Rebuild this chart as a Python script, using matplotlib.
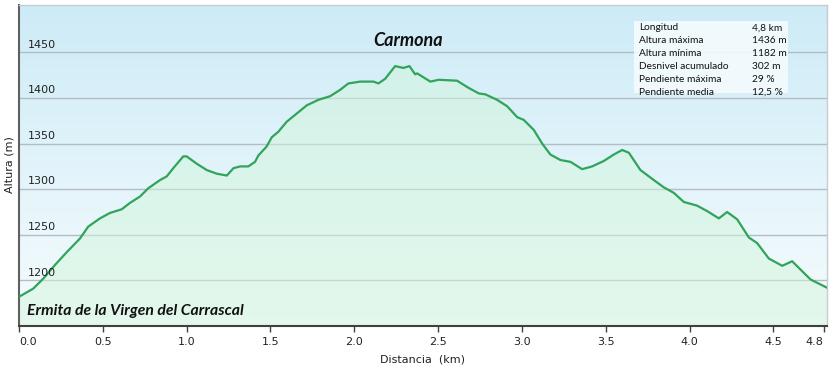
import numpy as np
import matplotlib.pyplot as plt
from matplotlib.colors import LinearSegmentedColormap

# Perfil de altura (distancia en km, altura en m)
dist = [0.0, 0.085, 0.145, 0.215, 0.285, 0.364, 0.413, 0.483, 0.543, 0.613,
        0.662, 0.722, 0.771, 0.841, 0.881, 0.92, 0.98, 1.0, 1.06, 1.12,
        1.18, 1.24, 1.279, 1.319, 1.368, 1.408, 1.428, 1.478, 1.508, 1.547,
        1.597, 1.657, 1.717, 1.786, 1.856, 1.916, 1.965, 2.035, 2.115, 2.144,
        2.184, 2.244, 2.293, 2.329, 2.363, 2.375, 2.454, 2.504, 2.613, 2.683,
        2.743, 2.782, 2.852, 2.912, 2.972, 3.011, 3.071, 3.121, 3.17, 3.23,
        3.29, 3.359, 3.419, 3.489, 3.548, 3.598, 3.638, 3.707, 3.787, 3.847,
        3.906, 3.966, 4.045, 4.105, 4.175, 4.224, 4.284, 4.354, 4.403, 4.473,
        4.553, 4.612, 4.722, 4.82]
altura = [1182, 1191, 1202, 1217, 1231, 1246, 1259, 1268, 1274, 1278,
          1285, 1292, 1301, 1310, 1314, 1323, 1336, 1336, 1328, 1321,
          1317, 1315, 1323, 1325, 1325, 1330, 1337, 1347, 1357, 1363,
          1374, 1383, 1392, 1398, 1402, 1409, 1416, 1418, 1418, 1416,
          1421, 1435, 1433, 1435, 1426, 1427, 1418, 1420, 1419, 1411,
          1405, 1404, 1398, 1391, 1379, 1376, 1365, 1350, 1338, 1332,
          1330, 1322, 1325, 1331, 1338, 1343, 1340, 1321, 1310, 1302,
          1296, 1286, 1282, 1276, 1268, 1275, 1267, 1247, 1241, 1224,
          1216, 1221, 1201, 1192]

x_ticks = [0.0, 0.5, 1.0, 1.5, 2.0, 2.5, 3.0, 3.5, 4.0, 4.5, 4.8]
y_ticks = [1200, 1250, 1300, 1350, 1400, 1450]

stats_labels = ["Longitud", "Altura máxima", "Altura mínima",
                "Desnivel acumulado", "Pendiente máxima", "Pendiente media"]
stats_values = ["4,8 km", "1436 m", "1182 m", "302 m", "29 %", "12,5 %"]

fig = plt.figure(figsize=(8.37, 3.71), dpi=100)
ax = fig.add_axes([19 / 837, 45 / 371, 808 / 837, 321 / 371])

xmin, xmax = 0, 4.82
ymin, ymax = 1150, 1502
ax.set_xlim(xmin, xmax)
ax.set_ylim(ymin, ymax)

# fondo degradado azul -> blanco
bg = LinearSegmentedColormap.from_list("bg", ["#f6fcfd", "#cdebf7"])
grad = np.linspace(0, 1, 256).reshape(-1, 1)
ax.imshow(grad, cmap=bg, aspect="auto", origin="lower",
          extent=[xmin, xmax, ymin, ymax], zorder=0)

for y in y_ticks:
    ax.axhline(y, color="#b4bcc4", lw=1, zorder=1)
    ax.text(0.05, y + 3, str(y), fontsize=8, color="#222222",
            ha="left", va="bottom", zorder=4)

ax.fill_between(dist, altura, ymin, color="#d2f5dc", alpha=0.5, lw=0, zorder=2)
ax.plot(dist, altura, color="#2fa45a", lw=1.6, zorder=3)

ax.set_xticks(x_ticks)
ax.set_xticklabels([f"{t:.1f}" for t in x_ticks], fontsize=8, color="#222222")
labels = ax.get_xticklabels()
labels[0].set_ha("left")
labels[-1].set_ha("right")
ax.tick_params(axis="x", direction="out", length=4, width=1, color="#404040", pad=4)
ax.set_yticks([])

for side in ["top", "right"]:
    ax.spines[side].set_color("#c8cccf")
    ax.spines[side].set_linewidth(1)
ax.spines["left"].set_color("#606060")
ax.spines["left"].set_linewidth(1.5)
ax.spines["bottom"].set_color("#404040")
ax.spines["bottom"].set_linewidth(1.5)

ax.set_xlabel("Distancia  (km)", fontsize=8, color="#222222", labelpad=5)
fig.text(10 / 837, 1 - 165 / 371, "Altura (m)", rotation=90, fontsize=8,
         color="#222222", ha="center", va="center")

ax.text(2.32, 1463, "Carmona", fontsize=13, fontweight="bold", style="italic",
        family="Lato", ha="center", va="center", color="#111111", zorder=5)
ax.text(0.05, 1166, "Ermita de la Virgen del Carrascal", fontsize=11.3,
        fontweight="bold", style="italic", family="Lato", ha="left",
        va="center", color="#111111", zorder=5)

# cuadro de datos
ax.add_patch(plt.Rectangle((3.67, 1406), 0.92, 79, facecolor="#f4fbfd",
                           edgecolor="none", alpha=0.9, zorder=5))
for i, (lab, val) in enumerate(zip(stats_labels, stats_values)):
    yy = 1477 - i * 14.2
    ax.text(3.70, yy, lab, fontsize=7.3, family="Lato", va="center",
            ha="left", color="#111111", zorder=6)
    ax.text(4.37, yy, val, fontsize=7.3, family="Lato", va="center",
            ha="left", color="#111111", zorder=6)

fig.savefig("out.png", dpi=100)
